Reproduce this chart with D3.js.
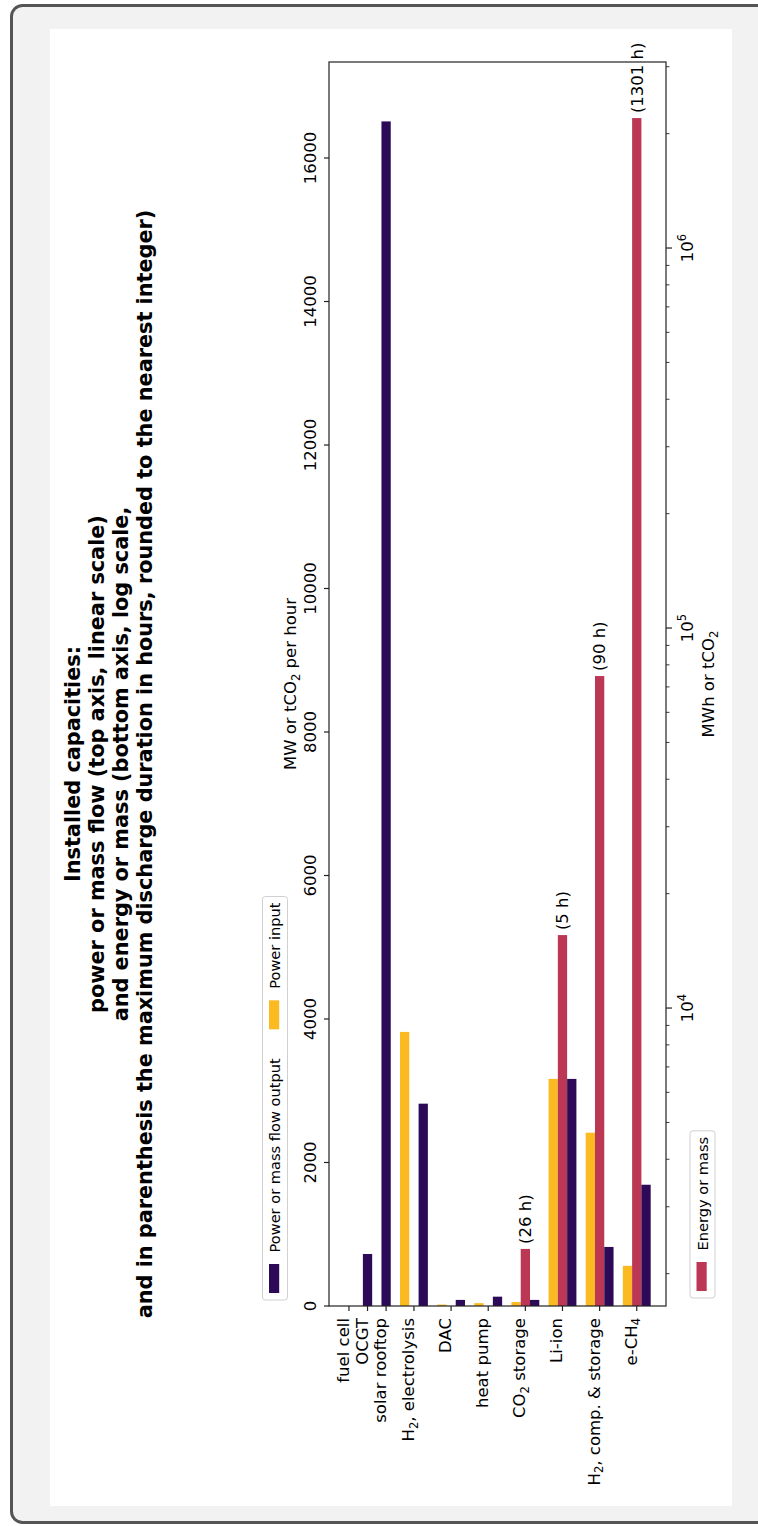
<!DOCTYPE html>
<html><head><meta charset="utf-8">
<script src="https://cdn.jsdelivr.net/npm/d3@7"></script>
<style>body{margin:0;background:#fff}</style>
</head><body>
<svg id="c" width="758" height="1526"></svg>
<script>
// ---- data ----
const categories = ["fuel cell","OCGT","solar rooftop","H₂, electrolysis","DAC","heat pump","CO₂ storage","Li-ion","H₂, comp. & storage","e-CH₄"];
const categoryPos = [1.25, 1.75, 2.25, 3, 4, 5, 6, 7, 8, 9];
const powerInput  = [0, 0, 0, 3820, 20, 40, 55, 3165, 2415, 560];
const powerOutput = [0, 725, 16510, 2820, 85, 130, 85, 3165, 823, 1690];
const energy      = [null, null, null, null, null, null, 2323, 15560, 74760, 2198000];
const durationH   = [null, null, null, null, null, null, 26, 5, 90, 1301];
const linTicks = [0, 2000, 4000, 6000, 8000, 10000, 12000, 14000, 16000];
const logMajor = [1e4, 1e5, 1e6];
const titleLines = ["Installed capacities:",
  "power or mass flow (top axis, linear scale)",
  "and energy or mass (bottom axis, log scale,",
  "and in parenthesis the maximum discharge duration in hours, rounded to the nearest integer)"];
const seriesNames = {output:"Power or mass flow output", input:"Power input", energy:"Energy or mass"};
const colors = {input:"#fbba22", energy:"#bc3754", output:"#2c0a58"};

// ---- layout ----
const W = 758, H = 1526, FONT = "DejaVu Sans", FS = 16.5, FSL = 14.6;
const svg = d3.select("#c");
svg.append("rect").attr("x",11.5).attr("y",5.5).attr("width",762).attr("height",1517)
  .attr("rx",11).attr("fill","#f2f2f2").attr("stroke","#555").attr("stroke-width",3);
svg.append("rect").attr("x",50).attr("y",29).attr("width",682).attr("height",1477).attr("fill","#fff");

// rotated frame: u -> page up, v -> page right
const g = svg.append("g").attr("transform",`translate(0,${H}) rotate(-90)`)
  .attr("font-family",FONT);
const P = {left:220, right:1464, top:329, bottom:666};

const yCat = d3.scaleLinear().domain([0.7125, 9.7875]).range([P.top, P.bottom]);
const xLin = d3.scaleLinear().domain([0, 17338]).range([P.left, P.right]);
const xLog = d3.scaleLog().domain([1644, 3.087e6]).range([P.left, P.right]);
const bw = yCat(0.25) - yCat(0);

function rich(sel, str, size){
  const subs = {"₂":"2","₄":"4"};
  let shifted = false;
  for (const ch of str){
    if (subs[ch]){
      sel.append("tspan").attr("font-size",size*0.7).attr("dy",shifted?0:size*0.22).text(subs[ch]);
      shifted = true;
    } else {
      sel.append("tspan").attr("dy",shifted?-size*0.22:0).text(ch);
      shifted = false;
    }
  }
  return sel;
}

// bars
const rows = categories.map((c,i)=>({c, pos:categoryPos[i], inp:powerInput[i], out:powerOutput[i], en:energy[i], dur:durationH[i]}));
const bars = g.append("g");
rows.forEach(r=>{
  const solo = !r.inp && r.en == null;
  const cy = yCat(r.pos);
  if (r.inp > 0) bars.append("rect").attr("x",xLin(0)).attr("width",xLin(r.inp)-xLin(0))
     .attr("y",cy - 1.5*bw).attr("height",bw).attr("fill",colors.input);
  if (r.en != null) bars.append("rect").attr("x",P.left).attr("width",xLog(r.en)-P.left)
     .attr("y",cy - 0.5*bw).attr("height",bw).attr("fill",colors.energy);
  if (r.out > 0) bars.append("rect").attr("x",xLin(0)).attr("width",xLin(r.out)-xLin(0))
     .attr("y",solo ? cy-0.5*bw : cy + 0.5*bw).attr("height",bw).attr("fill",colors.output);
  if (r.dur != null) g.append("text").attr("x",xLog(r.en)+5).attr("y",cy).attr("dy","0.35em")
     .attr("font-size",FS).text(`(${r.dur} h)`);
});

// spines
g.append("rect").attr("x",P.left).attr("y",P.top).attr("width",P.right-P.left).attr("height",P.bottom-P.top)
  .attr("fill","none").attr("stroke","#222").attr("stroke-width",1.2);

// top linear axis
const tg = g.append("g");
linTicks.forEach(t=>{
  tg.append("line").attr("x1",xLin(t)).attr("x2",xLin(t)).attr("y1",P.top).attr("y2",P.top-5).attr("stroke","#222").attr("stroke-width",1.2);
  tg.append("text").attr("x",xLin(t)).attr("y",P.top-13.5).attr("text-anchor","middle").attr("font-size",FS).text(t);
});
rich(g.append("text").attr("x",(P.left+P.right)/2).attr("y",296).attr("text-anchor","middle").attr("font-size",FS), "MW or tCO₂ per hour", FS);

// bottom log axis
const bg = g.append("g");
const [lo,hi] = xLog.domain();
for (let e=Math.floor(Math.log10(lo)); e<=Math.ceil(Math.log10(hi)); e++){
  for (let m=1;m<10;m++){
    const v = m*Math.pow(10,e);
    if (v<lo || v>hi) continue;
    const major = m===1;
    bg.append("line").attr("x1",xLog(v)).attr("x2",xLog(v)).attr("y1",P.bottom).attr("y2",P.bottom+(major?6:3.5))
      .attr("stroke","#222").attr("stroke-width",major?1.2:0.9);
  }
}
logMajor.forEach(v=>{
  const t = bg.append("text").attr("x",xLog(v)).attr("y",693).attr("text-anchor","middle").attr("font-size",FS);
  t.append("tspan").text("10");
  t.append("tspan").attr("font-size",11.5).attr("dy",-7.5).text(Math.round(Math.log10(v)));
});
rich(g.append("text").attr("x",(P.left+P.right)/2).attr("y",714).attr("text-anchor","middle").attr("font-size",FS), "MWh or tCO₂", FS);

// category axis
rows.forEach(r=>{
  const cy = yCat(r.pos);
  g.append("line").attr("x1",P.left).attr("x2",P.left-5).attr("y1",cy).attr("y2",cy).attr("stroke","#222").attr("stroke-width",1.2);
  rich(g.append("text").attr("x",208).attr("y",cy).attr("dy","0.5em").attr("text-anchor","end").attr("font-size",FS), r.c, FS);
});

// title
titleLines.forEach((l,i)=>{
  g.append("text").attr("x",762).attr("y",80+i*24).attr("text-anchor","middle")
   .attr("font-size",20.8).attr("font-weight","bold").text(l);
});

// legends
function legend(items, u0, v0){
  const lg = g.append("g");
  const frame = lg.append("rect");
  let u = u0 + 7;
  items.forEach((k,i)=>{
    lg.append("rect").attr("x",u).attr("y",v0+6.5).attr("width",29).attr("height",10.2).attr("fill",colors[k]);
    u += 29 + 11.5;
    const t = lg.append("text").attr("x",u).attr("y",v0+12.5).attr("dy","0.35em").attr("font-size",FSL).text(seriesNames[k]);
    u += t.node().getComputedTextLength();
    if (i < items.length-1) u += 29;
  });
  u += 6;
  frame.attr("x",u0).attr("y",v0).attr("width",u-u0).attr("height",25).attr("rx",3)
    .attr("fill","#fff").attr("fill-opacity",0.8).attr("stroke","#d0d0d0").attr("stroke-width",1);
}
legend(["output","input"], 226, 262.5);
legend(["energy"], 228, 690);
</script>
</body></html>
